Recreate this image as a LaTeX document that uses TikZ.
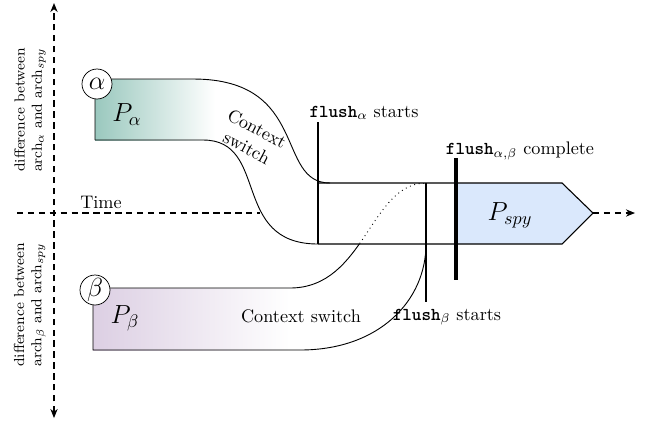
\documentclass[tikz,border=0pt]{standalone}
\usetikzlibrary{arrows.meta}
\definecolor{tealc}{HTML}{9AC8BE}
\definecolor{purplec}{HTML}{DCCFE3}
\definecolor{bluec}{HTML}{DAE8FC}
\newcommand{\fl}{\texttt{\textbf{flush}}}
\begin{document}
\begin{tikzpicture}[x=0.55pt,y=-0.55pt,
  axis/.style={dash pattern=on 3.5pt off 2.5pt, semithick},
  curve/.style={line width=0.5pt},
  bar/.style={line width=1pt},
  heavybar/.style={line width=2.2pt},
  circ/.style={circle, draw, fill=white, minimum size=16.5pt, inner sep=0pt, font=\Large},
  lbl/.style={inner sep=1pt}
]
\useasboundingbox (0,0) rectangle (646,431);
% axes
\coordinate (vt) at (54,3);
\coordinate (vb) at (54,418);
\draw[axis, {Stealth[length=5pt,width=4pt]}-{Stealth[length=5pt,width=4pt]}] (vb) -- (vt);
\coordinate (ts) at (17,213);
\coordinate (te) at (260,213);
\draw[axis] (ts) -- (te);
% alpha process
\fill[left color=tealc, right color=white] (95,79) rectangle (215,140);
\draw[curve] (95,140) -- (95,79) -- (193,79) .. controls (310,79) and (275,183) .. (330,183);
\draw[curve] (95,140) -- (203,140) .. controls (270,140) and (230,244) .. (318,244);
% beta process
\fill[left color=purplec, right color=white] (93,288) rectangle (290,350);
\draw[curve] (93,288) -- (93,350) -- (300,350) .. controls (380,350) and (426,300) .. (426,244);
\begin{scope}
  \clip (0,244) rectangle (646,431);
  \draw[curve] (93,288) -- (290,288) .. controls (365,288) and (370,183) .. (426,183);
\end{scope}
\begin{scope}
  \clip (0,183) rectangle (646,244);
  \draw[curve, dotted] (290,288) .. controls (365,288) and (370,183) .. (426,183);
\end{scope}
% spy process
\coordinate (tip) at (593,213);
\coordinate (arrowend) at (635,213);
\fill[bluec] (456,183) -- (562,183) -- (tip) -- (562,244) -- (456,244) -- cycle;
\draw[semithick] (318,183) -- (562,183) -- (tip) -- (562,244) -- (318,244);
\draw[axis, -{Stealth[length=5pt,width=4pt]}] (tip) -- (arrowend);
% bars
\coordinate (fa1) at (318,122); \coordinate (fa2) at (318,244);
\coordinate (fb1) at (426,183); \coordinate (fb2) at (426,302);
\coordinate (fc1) at (456,158); \coordinate (fc2) at (456,280);
\draw[bar] (fa1) -- (fa2);
\draw[bar] (fb1) -- (fb2);
\draw[heavybar] (fc1) -- (fc2);
% nodes
\node[circ] (alpha) at (97,84) {$\alpha$};
\node[circ] (beta) at (95,290) {$\beta$};
\node (pa) at (127,115) {\Large $P_\alpha$};
\node (pb) at (125,318) {\Large $P_\beta$};
\node (ps) at (510,215) {\Large $P_{spy}$};
\node[lbl] (time) at (101,202) {Time};
\node[lbl, rotate=90, align=center, font=\footnotesize] (dva) at (30,110) {difference between\\arch$_\alpha$ and arch$_{spy}$};
\node[lbl, rotate=90, align=center, font=\footnotesize] (dvb) at (30,305) {difference between\\arch$_\beta$ and arch$_{spy}$};
\node[lbl, rotate=-28, align=center] (csa) at (252,138) {Context\\switch};
\node[lbl] (csb) at (301,316) {Context switch};
\node[lbl] (fla) at (364,113) {\fl$_\alpha$ starts};
\node[lbl] (flc) at (520,151) {\fl$_{\alpha,\beta}$ complete};
\node[lbl] (flb) at (447,317) {\fl$_\beta$ starts};
\end{tikzpicture}
\end{document}
